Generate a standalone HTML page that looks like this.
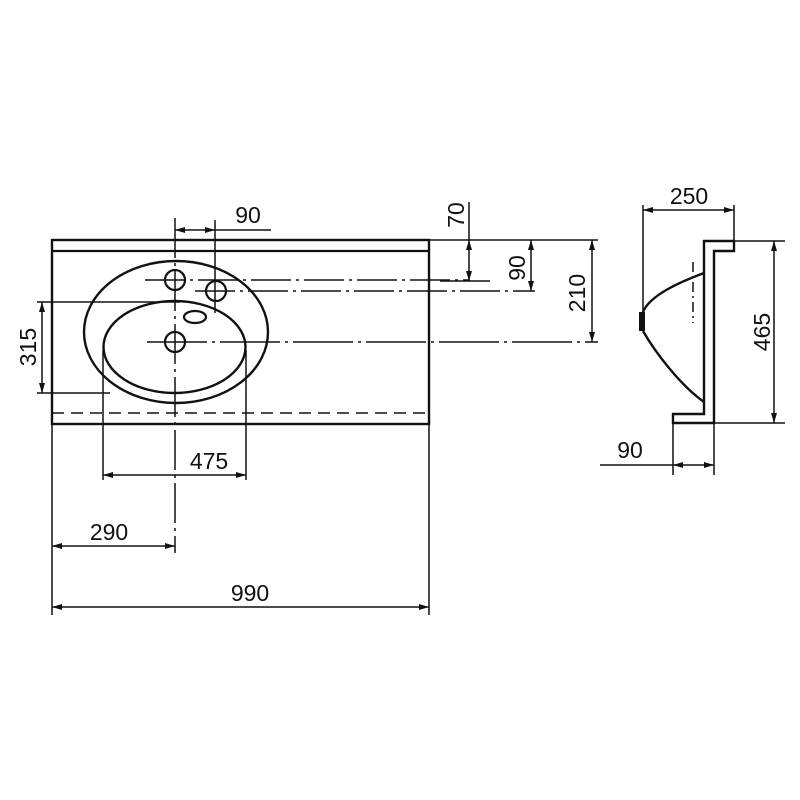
<!DOCTYPE html>
<html><head><meta charset="utf-8"><style>
html,body{margin:0;padding:0;background:#fff;width:800px;height:800px;overflow:hidden}
text{font-family:"Liberation Sans",sans-serif;font-size:23px;fill:#111}
</style></head><body>
<svg width="800" height="800" viewBox="0 0 800 800" xmlns="http://www.w3.org/2000/svg">
<defs>
<marker id="a" viewBox="0 0 10 6" refX="10" refY="3" markerWidth="11" markerHeight="6" orient="auto-start-reverse" markerUnits="userSpaceOnUse"><path d="M0,0 L10,3 L0,6 z" fill="#111"/></marker>
</defs>
<g stroke="#111" fill="none">
<rect x="52" y="240" width="377" height="184" stroke-width="2.4"/>
<line x1="52" y1="251" x2="429" y2="251" stroke-width="2.2"/>
<line x1="52" y1="413" x2="429" y2="413" stroke-width="1.6" stroke-dasharray="12,7"/>
<ellipse cx="176" cy="332" rx="92" ry="71" stroke-width="2.4"/>
<ellipse cx="174.5" cy="347" rx="71" ry="46" stroke-width="2.4"/>
<circle cx="175" cy="280" r="10" stroke-width="2.2"/>
<circle cx="216" cy="291" r="10" stroke-width="2.2"/>
<circle cx="175" cy="342" r="10" stroke-width="2.2"/>
<ellipse cx="195" cy="317" rx="11" ry="6" stroke-width="2.2"/>
<g stroke-width="1.5">
<line x1="175" y1="218" x2="175" y2="553" stroke-dasharray="40,5,3,5"/>
<line x1="215" y1="220" x2="215" y2="313"/>
<line x1="145" y1="280" x2="470" y2="280" stroke-dasharray="40,5,3,5"/>
<line x1="195" y1="291" x2="535" y2="291" stroke-dasharray="40,5,3,5"/>
<line x1="147" y1="342" x2="598" y2="342" stroke-dasharray="60,5,3,5"/>
<line x1="429" y1="240" x2="598" y2="240"/>
<line x1="440" y1="281" x2="490" y2="281"/>
<line x1="175" y1="230" x2="215" y2="230" marker-start="url(#a)" marker-end="url(#a)"/>
<line x1="215" y1="230" x2="271" y2="230"/>
<line x1="469" y1="202" x2="469" y2="240"/>
<line x1="469" y1="240" x2="469" y2="281" marker-start="url(#a)" marker-end="url(#a)"/>
<line x1="531" y1="240" x2="531" y2="291" marker-start="url(#a)" marker-end="url(#a)"/>
<line x1="592" y1="240" x2="592" y2="342" marker-start="url(#a)" marker-end="url(#a)"/>
<line x1="37" y1="302" x2="180" y2="302"/>
<line x1="37" y1="393" x2="110" y2="393"/>
<line x1="42" y1="302" x2="42" y2="393" marker-start="url(#a)" marker-end="url(#a)"/>
<line x1="103" y1="350" x2="103" y2="480"/>
<line x1="246" y1="350" x2="246" y2="480"/>
<line x1="103" y1="475" x2="246" y2="475" marker-start="url(#a)" marker-end="url(#a)"/>
<line x1="52" y1="546" x2="175" y2="546" marker-start="url(#a)" marker-end="url(#a)"/>
<line x1="52" y1="424" x2="52" y2="615"/>
<line x1="429" y1="424" x2="429" y2="615"/>
<line x1="52" y1="607" x2="429" y2="607" marker-start="url(#a)" marker-end="url(#a)"/>
</g>
<path d="M704,241 L734,241 L734,251 L714,251 L714,423 L673,423 L673,414 L704,414 Z" stroke-width="2.4"/>
<path d="M704,273 C680,282 650,295 643,312 M643,331 C655,352 680,385 704,402" stroke-width="2.4"/>
<rect x="639" y="312" width="6" height="19" fill="#111" stroke="none"/>
<line x1="693" y1="262" x2="693" y2="323" stroke-width="1.5" stroke-dasharray="10,4,2,4"/>
<g stroke-width="1.5">
<line x1="643" y1="205" x2="643" y2="312"/>
<line x1="734" y1="205" x2="734" y2="241"/>
<line x1="643" y1="210" x2="734" y2="210" marker-start="url(#a)" marker-end="url(#a)"/>
<line x1="734" y1="241" x2="785" y2="241"/>
<line x1="714" y1="423" x2="785" y2="423"/>
<line x1="774" y1="241" x2="774" y2="423" marker-start="url(#a)" marker-end="url(#a)"/>
<line x1="673" y1="423" x2="673" y2="475"/>
<line x1="714" y1="423" x2="714" y2="475"/>
<line x1="600" y1="465" x2="673" y2="465"/>
<line x1="673" y1="465" x2="714" y2="465" marker-start="url(#a)" marker-end="url(#a)"/>
</g>
</g>
<text x="248" y="223" text-anchor="middle">90</text>
<text x="209" y="469" text-anchor="middle">475</text>
<text x="109" y="540" text-anchor="middle">290</text>
<text x="250" y="601" text-anchor="middle">990</text>
<text x="689" y="204" text-anchor="middle">250</text>
<text x="630" y="458" text-anchor="middle">90</text>
<text transform="translate(464,215) rotate(-90)" text-anchor="middle">70</text>
<text transform="translate(525,268) rotate(-90)" text-anchor="middle">90</text>
<text transform="translate(585,293) rotate(-90)" text-anchor="middle">210</text>
<text transform="translate(36,347) rotate(-90)" text-anchor="middle">315</text>
<text transform="translate(770,332) rotate(-90)" text-anchor="middle">465</text>
</svg>
</body></html>
